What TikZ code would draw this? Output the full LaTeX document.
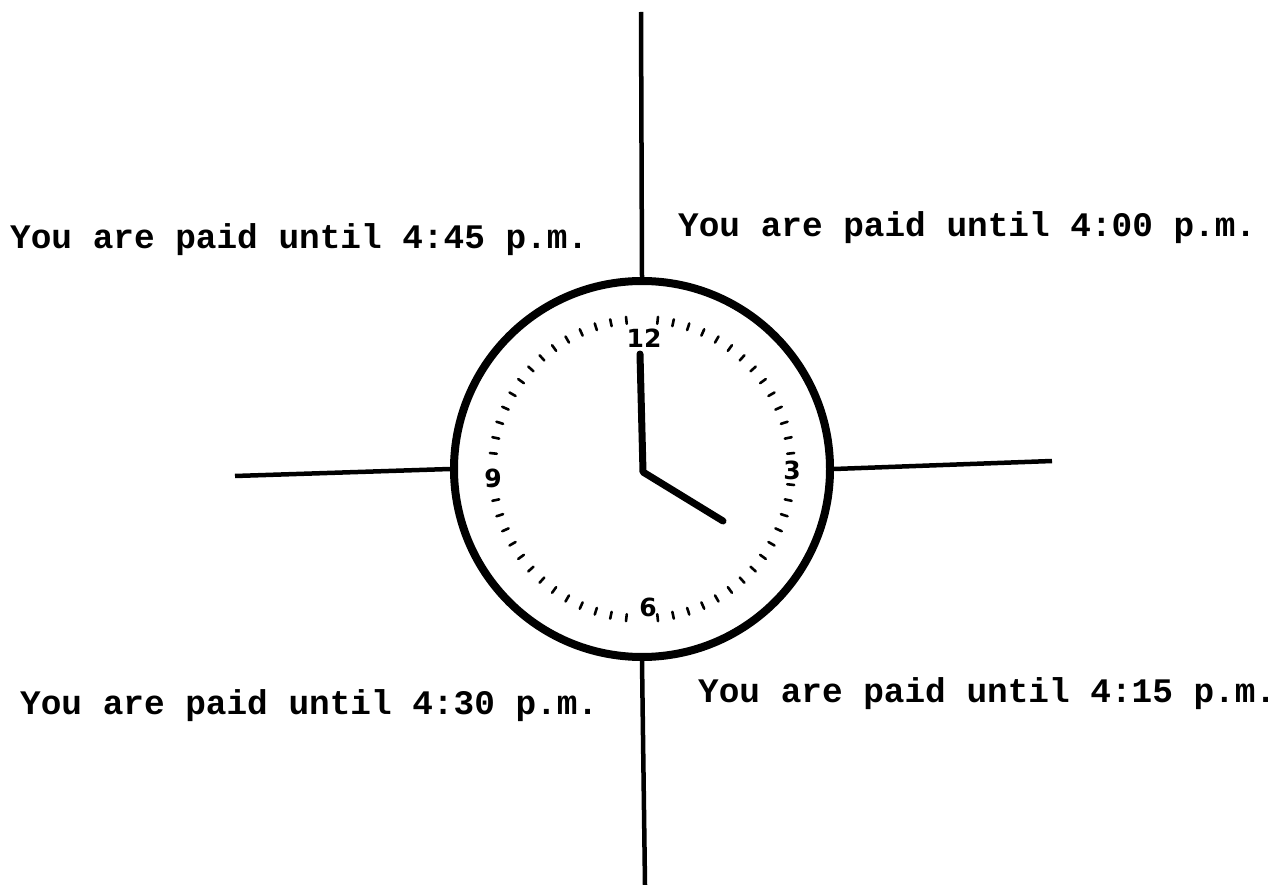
\documentclass[tikz,border=0pt]{standalone}
\usepackage{fontspec}
\usetikzlibrary{calc}
\setmonofont{Liberation Mono}
\newfontfamily\handfont{DejaVu Sans}
\begin{document}
\begin{tikzpicture}[x=1pt,y=-1pt,
  label/.style={font=\fontsize{34.4}{40}\selectfont\ttfamily\bfseries, inner sep=0pt},
  numeral/.style={font=\fontsize{25}{28}\selectfont\handfont\bfseries, inner sep=0pt},
  axis/.style={line width=4.5pt},
  hand/.style={line width=7pt, line cap=round, line join=round},
  tick/.style={line width=2.6pt, line cap=round}]
\useasboundingbox (0,0) rectangle (1283,885);
\fill[white] (0,0) rectangle (1283,885);

% clock face
\coordinate (c) at (642,469);
\node[circle, draw, line width=8pt, minimum size=376pt, inner sep=0pt] (face) at (c) {};

% arms crossing the face
\coordinate (top) at (641,12);
\coordinate (bottom) at (645,885);
\coordinate (left) at (235,476);
\coordinate (right) at (1052,461);
\draw[axis] (top) -- (face.north);
\draw[axis] (face.south) -- (bottom);
\draw[axis] (left) -- (face.west);
\draw[axis] (face.east) -- (right);

% minute ticks
\foreach \m in {1,...,59} {
  \pgfmathsetmacro{\ang}{90-6*\m}
  \pgfmathtruncatemacro{\q}{mod(\m,15)}
  \ifnum\q=0\else
    \draw[tick] ($(c)+(\ang:146pt)$) -- ($(c)+(\ang:153pt)$);
  \fi
}

% numerals
\node[numeral] (n12) at (644,338) {12};
\node[numeral] (n3) at (792,470) {3};
\node[numeral] (n9) at (493,478) {9};
\node[numeral] (n6) at (648,607) {6};

% hands at four o'clock
\coordinate (hub) at (643,472);
\coordinate (minute) at (640,354);
\coordinate (hour) at (723,521);
\draw[hand] (minute) -- (hub) -- (hour);

% captions
\node[label, anchor=west] (q1) at (10,240) {You are paid until 4:45 p.m.};
\node[label, anchor=west] (q2) at (678,228) {You are paid until 4:00 p.m.};
\node[label, anchor=west] (q3) at (20,706) {You are paid until 4:30 p.m.};
\node[label, anchor=west] (q4) at (698,694) {You are paid until 4:15 p.m.};
\end{tikzpicture}
\end{document}
